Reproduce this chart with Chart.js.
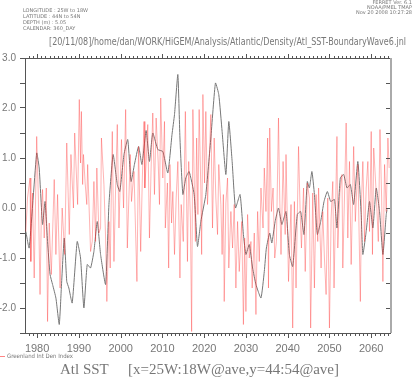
<!DOCTYPE html>
<html>
<head>
<meta charset="utf-8">
<script src="https://cdn.jsdelivr.net/npm/chart.js@4/dist/chart.umd.min.js"></script>
<style>
  html, body { margin: 0; padding: 0; background: #fff; }
  #wrap { width: 415px; height: 377px; position: relative; }
</style>
</head>
<body>
<div id="wrap"><canvas id="c" width="415" height="377"></canvas></div>
<script>
// smoothed series (grey line)
const smoothYears = [1977.3, 1978.1, 1979.9, 1980.5, 1981.3, 1981.9, 1982.5, 1983.1, 1983.7, 1984.5, 1985.3, 1985.8, 1986.5, 1987.1, 1987.6, 1988.4, 1989.6, 1990.4, 1991.2, 1992.0, 1992.8, 1993.6, 1994.4, 1995.2, 1996.4, 1997.2, 1998.2, 1999.2, 1999.8, 2000.8, 2001.7, 2002.5, 2003.3, 2004.3, 2005.1, 2006.1, 2006.9, 2007.7, 2008.9, 2010.1, 2011.3, 2012.3, 2012.9, 2013.7, 2014.2, 2014.9, 2015.6, 2016.4, 2017.6, 2018.4, 2019.2, 2020.4, 2021.6, 2022.7, 2023.5, 2024.3, 2025.2, 2025.9, 2026.7, 2027.5, 2028.6, 2029.4, 2030.0, 2030.8, 2031.6, 2032.4, 2033.6, 2034.4, 2034.9, 2035.7, 2036.2, 2037.0, 2037.8, 2038.6, 2039.6, 2040.4, 2041.2, 2042.3, 2043.1, 2043.9, 2044.7, 2045.2, 2045.8, 2046.4, 2047.1, 2047.9, 2048.7, 2049.5, 2050.3, 2051.2, 2051.8, 2052.6, 2053.4, 2054.2, 2055.0, 2055.8, 2056.8, 2057.6, 2058.0, 2058.8, 2059.6, 2060.4, 2061.2, 2062.0, 2062.8, 2063.6, 2063.8];
const smoothVals = [-0.47, -0.8, 1.1, 0.8, -0.33, 0.13, -0.67, -1.33, -1.53, -1.8, -2.33, -1.6, -0.6, -1.47, -1.6, -1.9, -0.67, -1.0, -2.0, -1.13, -1.2, -0.87, -0.27, -0.93, -1.53, 0.07, 1.07, 0.47, 0.33, 1.07, 1.37, 0.53, 0.87, 1.23, 0.87, 1.55, 0.93, 1.5, 1.17, 1.13, 0.7, 1.47, 1.87, 2.67, 1.4, 0.27, 0.6, 0.73, 0.27, -0.77, -0.27, 0.27, 1.4, 2.5, 2.27, 1.53, 0.67, 1.73, 0.93, 0.0, 0.27, -0.53, -0.93, -0.73, -1.2, -1.53, -1.8, -1.27, -0.8, -0.5, -0.7, -0.27, 0.0, -0.33, -0.07, -0.93, -1.17, -0.13, -0.07, -0.53, 0.53, 0.4, 0.73, 0.27, -0.53, -0.27, 0.13, 0.33, 0.13, 0.17, -0.4, 0.6, 0.67, 0.4, 0.47, 0.07, 0.93, -0.13, -0.93, -0.47, 0.13, -0.4, 0.4, -0.07, -0.93, -0.13, -0.03];

// index series (light red line)
const indexYears = [1977.3, 1977.7, 1978.3, 1978.5, 1978.9, 1979.3, 1979.9, 1980.3, 1980.7, 1981.0, 1981.3, 1981.7, 1982.2, 1982.5, 1982.9, 1983.4, 1984.1, 1984.5, 1984.9, 1985.5, 1986.0, 1986.6, 1987.1, 1987.7, 1988.1, 1988.7, 1989.0, 1989.7, 1990.1, 1990.4, 1990.6, 1990.9, 1991.1, 1991.5, 1991.9, 1992.1, 1992.8, 1993.2, 1993.6, 1994.0, 1994.3, 1994.8, 1995.2, 1995.4, 1996.0, 1996.4, 1996.7, 1997.2, 1997.5, 1998.0, 1998.4, 1998.8, 1999.2, 1999.6, 2000.2, 2000.7, 2001.2, 2001.6, 2002.3, 2002.6, 2003.2, 2003.9, 2004.3, 2004.8, 2005.2, 2005.6, 2005.8, 2006.1, 2006.5, 2006.9, 2007.3, 2007.7, 2008.1, 2008.5, 2009.0, 2009.3, 2009.6, 2010.1, 2010.5, 2010.7, 2011.2, 2011.5, 2011.8, 2012.2, 2012.5, 2012.9, 2013.3, 2013.7, 2014.2, 2014.5, 2015.0, 2015.5, 2016.0, 2016.3, 2016.7, 2017.0, 2017.3, 2017.9, 2018.2, 2018.5, 2018.8, 2019.2, 2019.4, 2019.7, 2020.1, 2020.4, 2020.8, 2021.2, 2021.6, 2022.0, 2022.4, 2022.8, 2023.2, 2023.5, 2024.0, 2024.3, 2024.6, 2024.8, 2025.2, 2025.6, 2025.9, 2026.4, 2026.8, 2027.2, 2027.6, 2028.0, 2028.4, 2029.0, 2029.4, 2029.7, 2030.0, 2030.4, 2030.8, 2031.2, 2031.5, 2032.0, 2032.4, 2032.8, 2033.2, 2033.6, 2034.1, 2034.4, 2034.8, 2035.2, 2035.4, 2035.7, 2036.1, 2036.5, 2036.9, 2037.3, 2037.8, 2038.1, 2038.4, 2038.9, 2039.4, 2039.6, 2040.2, 2040.8, 2041.2, 2041.6, 2042.0, 2042.6, 2043.0, 2043.3, 2043.8, 2044.2, 2044.7, 2045.2, 2045.5, 2046.0, 2046.4, 2046.8, 2047.2, 2047.4, 2048.0, 2048.4, 2048.8, 2049.2, 2049.6, 2050.0, 2050.4, 2050.8, 2051.1, 2051.8, 2052.0, 2052.5, 2053.0, 2053.2, 2053.6, 2054.0, 2054.4, 2054.8, 2055.2, 2055.8, 2056.2, 2056.8, 2057.4, 2057.7, 2058.0, 2058.4, 2058.8, 2059.2, 2059.6, 2060.0, 2060.3, 2060.6, 2061.2, 2061.7, 2062.1, 2062.5, 2062.8, 2063.2, 2063.6, 2064.0, 2064.3];
const indexVals = [-0.47, 0.2, 0.6, -1.07, 0.3, -1.4, 1.43, 0.2, -1.73, -0.2, 0.37, -0.6, 0.4, -2.27, -0.3, -1.33, 0.57, -0.93, 0.27, -1.6, 0.0, -0.93, 1.3, -0.53, 1.07, 0.0, 1.5, 0.07, 2.17, 0.9, 1.93, 0.47, 1.07, 0.5, 0.07, 0.87, -0.87, -0.67, 0.53, -0.67, 0.8, -0.5, -0.4, 1.4, 0.47, -0.6, -1.87, -0.27, -1.2, 1.53, -1.07, 0.4, 1.67, -0.4, 1.37, 0.0, 1.97, -0.8, 1.07, 0.13, 0.73, -1.47, 1.23, -0.87, 0.6, 1.73, 0.4, 0.9, 1.67, -0.6, 0.8, 1.9, 0.27, 1.8, 0.9, 0.07, 2.2, 0.6, 1.73, -0.4, 0.5, -1.2, 0.87, -0.3, 0.33, -0.93, 0.2, 0.93, -1.4, 0.07, -0.67, 1.93, -1.07, 0.93, -0.2, -2.47, 1.97, -0.67, 1.4, -0.13, 1.97, 0.4, -0.93, 2.27, 0.5, 1.93, 0.07, 0.9, 1.87, -0.4, 1.4, 0.2, -0.53, 0.87, 0.07, -0.93, 0.27, -1.87, 0.1, 0.6, -1.2, -0.07, -0.8, 0.07, -1.6, -0.27, -1.27, -0.27, -2.33, -0.6, -2.07, -0.13, -1.0, -0.67, -1.6, -0.5, -2.13, -0.07, -1.07, 0.4, -0.4, 0.8, -0.07, 1.4, -1.6, 1.6, -0.07, 0.4, -1.0, -0.67, 1.8, 0.2, -0.93, 0.93, -0.53, 1.07, -1.47, 0.07, -2.4, 0.13, -1.6, 1.23, -0.13, -0.8, 0.4, -1.27, 0.5, 0.2, -2.4, 0.3, -1.6, 0.27, -0.67, 0.4, -1.2, -0.07, -1.0, -1.73, 0.2, -2.4, -0.2, 0.53, -1.6, 1.43, -0.8, 0.3, 0.67, -1.2, 0.2, 1.7, -0.6, 0.93, -1.13, 1.23, -0.27, 0.87, -1.87, 0.2, 0.93, -0.67, 0.4, 0.93, -0.47, 1.53, -0.93, 1.2, 0.3, -0.67, 1.57, 0.2, -1.47, 0.87, -0.07, 1.4, 0.8];

const yTicks = [-2.0, -1.0, 0.0, 1.0, 2.0, 3.0];
const xLabels = [1980, 1990, 2000, 2010, 2020, 2030, 2040, 2050, 2060];

const headerLines = ['LONGITUDE : 25W to 18W', 'LATITUDE : 44N to 54N', 'DEPTH (m) : 5.05', 'CALENDAR: 360_DAY'];
const stampLines = ['FERRET Ver. 6.1', 'NOAA/PMEL TMAP', 'Nov 20 2008 10:27:28'];
const jnlPath = '[20/11/08]/home/dan/WORK/HiGEM/Analysis/Atlantic/Density/Atl_SST-BoundaryWave6.jnl';
const legendText = 'Greenland Int Den Index';

const axisCol = '#555';
const textCol = '#777';

const frame = {
  id: 'frame',
  afterDraw(chart) {
    const ctx = chart.ctx;
    const a = chart.chartArea;
    const xs = chart.scales.x, ys = chart.scales.y;
    ctx.save();
    ctx.strokeStyle = axisCol;
    ctx.lineWidth = 1;
    // top line
    ctx.beginPath();
    ctx.moveTo(a.left, a.top + 0.5);
    ctx.lineTo(a.right, a.top + 0.5);
    ctx.stroke();
    // year ticks, bottom and top
    ctx.beginPath();
    for (let yr = Math.ceil(xs.min); yr <= xs.max; yr++) {
      const px = Math.round(xs.getPixelForValue(yr)) + 0.5;
      const len = yr % 10 === 0 ? 5 : 3;
      ctx.moveTo(px, a.bottom); ctx.lineTo(px, a.bottom + len);
      ctx.moveTo(px, a.top); ctx.lineTo(px, a.top - (yr % 10 === 0 ? 4 : 2));
    }
    ctx.stroke();
    // right axis
    ctx.strokeStyle = '#aaa';
    ctx.lineWidth = 2;
    ctx.beginPath();
    ctx.moveTo(a.right + 1, a.top);
    ctx.lineTo(a.right + 1, a.bottom);
    ctx.stroke();
    ctx.lineWidth = 1;
    ctx.strokeStyle = axisCol;
    ctx.beginPath();
    for (let v = -2.0; v <= 2.5; v += 0.5) {
      const py = Math.round(ys.getPixelForValue(v)) + 0.5;
      ctx.moveTo(a.right, py); ctx.lineTo(a.right - 4, py);
    }
    ctx.stroke();

    // header text
    ctx.fillStyle = textCol;
    ctx.textBaseline = 'middle';
    ctx.font = '5px "DejaVu Sans"';
    ctx.textAlign = 'left';
    headerLines.forEach((t, i) => ctx.fillText(t, 23, 11 + i * 6));
    ctx.textAlign = 'right';
    stampLines.forEach((t, i) => ctx.fillText(t, 412, 3 + i * 5));
    ctx.textAlign = 'left';
    ctx.font = '11px "DejaVu Sans"';
    ctx.fillText(jnlPath, 49, 42, 357);

    // legend
    ctx.strokeStyle = 'rgba(255,80,80,0.7)';
    ctx.beginPath();
    ctx.moveTo(0, 356.5); ctx.lineTo(5, 356.5);
    ctx.stroke();
    ctx.font = '6px "DejaVu Sans"';
    ctx.fillText(legendText, 7, 356.5, 66);

    // bottom title
    ctx.font = '15px "Liberation Serif"';
    ctx.textBaseline = 'alphabetic';
    ctx.fillText('Atl SST', 60, 374, 53);
    ctx.fillText('[x=25W:18W@ave,y=44:54@ave]', 128, 374, 227);
    ctx.restore();
  }
};

new Chart(document.getElementById('c'), {
  type: 'line',
  data: {
    datasets: [
      {
        label: legendText,
        data: indexYears.map((yr, i) => ({ x: yr, y: indexVals[i] })),
        borderColor: 'rgba(255,40,40,0.35)',
        borderWidth: 1,
        pointRadius: 0,
        tension: 0
      },
      {
        label: 'smoothed',
        data: smoothYears.map((yr, i) => ({ x: yr, y: smoothVals[i] })),
        borderColor: '#777',
        borderWidth: 1,
        pointRadius: 0,
        tension: 0.15
      }
    ]
  },
  options: {
    responsive: false,
    animation: false,
    layout: { padding: { top: 58, right: 25, left: 0, bottom: 0 } },
    plugins: { legend: { display: false }, tooltip: { enabled: false } },
    scales: {
      x: {
        type: 'linear',
        min: 1977.1,
        max: 2064.5,
        grid: { display: false, drawTicks: false },
        border: { display: true, color: axisCol },
        ticks: {
          stepSize: 10,
          includeBounds: false,
          autoSkip: false,
          maxRotation: 0,
          padding: 9,
          color: textCol,
          font: { family: '"Liberation Sans"', size: 11 },
          callback: v => xLabels.includes(v) ? String(v) : ''
        },
        afterFit: s => { s.height = 44; }
      },
      y: {
        min: -2.5,
        max: 3.0,
        grid: { drawOnChartArea: false, tickLength: 5, color: axisCol },
        border: { display: true, color: axisCol },
        ticks: {
          stepSize: 0.5,
          autoSkip: false,
          padding: 4,
          color: textCol,
          font: { family: '"Liberation Sans"', size: 10 },
          callback: v => yTicks.includes(v) ? v.toFixed(1) : ''
        },
        afterFit: s => { s.width = 25; }
      }
    }
  },
  plugins: [frame]
});
</script>
</body>
</html>
